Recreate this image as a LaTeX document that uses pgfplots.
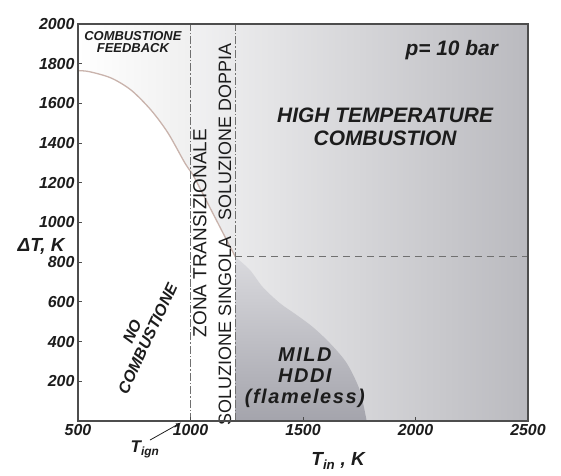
\documentclass[border=0pt]{standalone}
\usepackage{fontspec}
\setmainfont{Liberation Sans}
\usepackage{pgfplots}
\pgfplotsset{compat=1.18}

\newcommand{\fs}[1]{\fontsize{#1}{#1}\selectfont}
\newcommand{\bi}{\bfseries\itshape}

\definecolor{frame}{HTML}{4D4D4D}
\definecolor{curve}{HTML}{C9B3AC}
\definecolor{guide}{HTML}{707070}
\definecolor{ink}{HTML}{1C1C1C}
\definecolor{hiA}{HTML}{BABABF}
\definecolor{hiB}{HTML}{F1F1F2}
\definecolor{mildA}{HTML}{DADADE}
\definecolor{mildB}{HTML}{A4A4AC}

\begin{document}
\begin{tikzpicture}
\begin{axis}[
  scale only axis, width=450bp, height=397bp,
  xmin=500, xmax=2500, ymin=0, ymax=2000,
  xtick={500,1000,...,2500}, ytick={200,400,...,2000},
  xtick pos=bottom, ytick pos=left, tick align=inside,
  major tick length=4pt,
  tick style={frame, line width=1pt},
  axis line style={frame, line width=2.6pt},
  ticklabel style={font=\bi\fs{16}, text=ink},
  /pgf/number format/assume math mode=true,
  /pgf/number format/1000 sep={},
  clip=false, axis on top,
]
% zones
\addplot[draw=none, left color=hiB, right color=hiA]
  coordinates {(1000,2000) (2500,2000)} \closedcycle;
\addplot[draw=none, left color=white, right color=gray!12]
  coordinates {(500,2000) (1000,2000)} \closedcycle;
\addplot[draw=none, fill=white, smooth]
  coordinates {(500,1765) (550,1760) (647,1728) (736,1667) (824,1567) (900,1451)
               (975,1300) (1011,1239) (1050,1155) (1100,1045) (1150,935) (1200,826)} \closedcycle;
\addplot[draw=none, top color=mildA, bottom color=mildB, smooth]
  coordinates {(1200,826) (1264,761) (1321,675) (1397,594) (1472,534) (1543,474)
               (1619,393) (1694,292) (1752,156) (1783,0)} \closedcycle;

% curve
\addplot[curve, line width=1.3pt, smooth]
  coordinates {(500,1765) (550,1760) (647,1728) (736,1667) (824,1567) (900,1451)
               (975,1300) (1011,1239) (1050,1155) (1100,1045) (1150,935) (1200,826)};

% guides
\addplot[guide, line width=1pt, dash pattern=on 8pt off 2pt on 1.5pt off 2pt]
  coordinates {(1000,0) (1000,2000)};
\addplot[guide, line width=1pt, dash pattern=on 8pt off 2pt on 1.5pt off 2pt]
  coordinates {(1200,0) (1200,2000)};
\addplot[guide, line width=1pt, dash pattern=on 7pt off 5pt]
  coordinates {(1200,830) (2500,830)};

% labels
\node[text=ink, align=center, font=\bi\fs{13}, inner sep=0pt] at (axis cs:744,1909)
  {COMBUSTIONE\\[-1pt]FEEDBACK};
\node[text=ink, font=\bi\fs{21}, inner sep=0pt] at (axis cs:2161,1869) {p= 10 bar};
\node[text=ink, align=center, font=\bi\fs{21}, inner sep=0pt] at (axis cs:1865,1481)
  {HIGH TEMPERATURE\\[2pt]COMBUSTION};
\node[text=ink, align=center, font=\bi\fs{16}, inner sep=0pt, rotate=65] at (axis cs:775,433)
  {NO\\[1pt]COMBUSTIONE};
\node[text=ink, font=\fs{19}, inner sep=0pt, rotate=90] at (axis cs:1042,947)
  {ZONA TRANSIZIONALE};
\node[text=ink, font=\fs{18}, inner sep=0pt, rotate=90] at (axis cs:1153,453)
  {SOLUZIONE SINGOLA};
\node[text=ink, font=\fs{18}, inner sep=0pt, rotate=90] at (axis cs:1153,1456)
  {SOLUZIONE DOPPIA};
\node[text=ink, align=center, font=\bi\fs{20}\addfontfeature{LetterSpace=8}, inner sep=0pt]
  at (axis cs:1508,217) {MILD\\[1pt]HDDI\\[1pt](flameless)};

\node[text=ink, font=\bi\fs{19}, inner sep=0pt] at (axis description cs:-0.082,0.44) {ΔT, K};
\node[text=ink, font=\bi\fs{19}, inner sep=0pt] at (axis description cs:0.578,-0.10)
  {T\textsubscript{in} , K};
\node[text=ink, font=\bi\fs{17}, inner sep=0pt] at (axis description cs:0.149,-0.071)
  {T\textsubscript{ign}};
\draw[ink, line width=0.8pt, -latex] (axis cs:820,-96) -- (axis cs:958,-8);
\end{axis}
\pgfresetboundingbox
\useasboundingbox (current axis.south west) ++(-78bp,-55bp) rectangle ++(561bp,476bp);
\end{tikzpicture}
\end{document}
